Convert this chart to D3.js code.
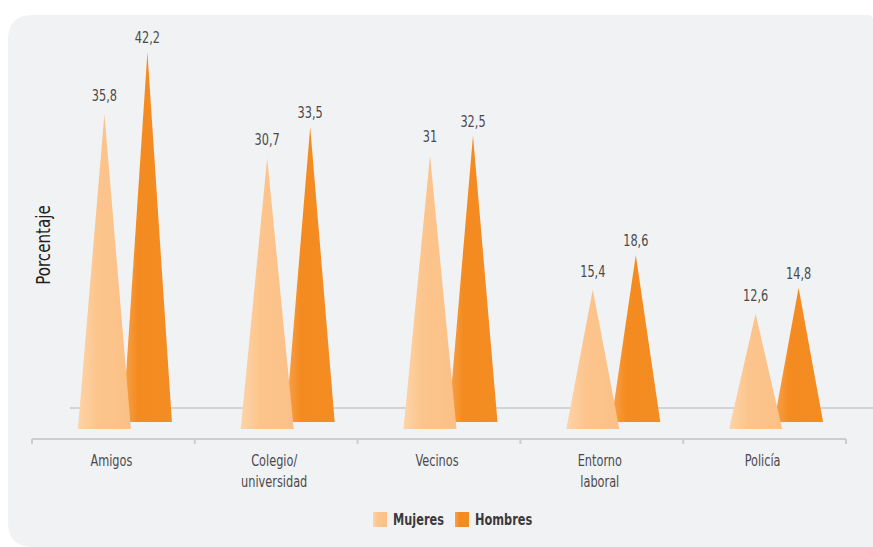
<!DOCTYPE html>
<html>
<head>
<meta charset="utf-8">
<script src="https://cdn.jsdelivr.net/npm/d3@7"></script>
<style>
	body { margin: 0; background: #ffffff; }
	text { font-family: "Liberation Sans Narrow", "DejaVu Sans Condensed", "Roboto", sans-serif; }
</style>
</head>
<body>
<svg id="chart" width="873" height="547"></svg>
<script>

var categories = ["Amigos", "Colegio/\nuniversidad", "Vecinos", "Entorno\nlaboral", "Policía"];
var mujeres = [35.8, 30.7, 31, 15.4, 12.6];
var hombres = [42.2, 33.5, 32.5, 18.6, 14.8];
var seriesNames = ["Mujeres", "Hombres"];

var fmt = function(v)
{
	return String(v).replace(".", ",");
};

// narrow text: the reference uses a condensed face
var squeeze = 0.84;

function narrowText(parent, px, py, str, size, extra)
{
	var t = parent.append("text")
		.attr("transform", "translate(" + px + "," + py + ")" + (extra || "") + " scale(" + squeeze + ",1)")
		.attr("font-size", size)
		.text(str);
	return t;
}

function drawChart()
{
	var svg = d3.select("#chart");
	var defs = svg.append("defs");

	// panel, rounded on the left side
	svg.append("path")
		.attr("d", "M33,15 L868,15 Q873,15 873,20 L873,547 L33,547 Q8,547 8,522 L8,40 Q8,15 33,15 Z")
		.attr("fill", "#f1f2f4");

	var gM = defs.append("linearGradient").attr("id", "gradM");
	gM.append("stop").attr("offset", "0%").attr("stop-color", "#fdd4a9");
	gM.append("stop").attr("offset", "35%").attr("stop-color", "#fcc58d");
	gM.append("stop").attr("offset", "100%").attr("stop-color", "#fbc086");

	var gH = defs.append("linearGradient").attr("id", "gradH");
	gH.append("stop").attr("offset", "0%").attr("stop-color", "#f7a34e");
	gH.append("stop").attr("offset", "30%").attr("stop-color", "#f48b20");
	gH.append("stop").attr("offset", "100%").attr("stop-color", "#f38c22");

	var x = d3.scaleBand().domain(categories).range([32, 846]);
	var y = d3.scaleLinear().domain([0, 45]).range([415, 415 - 45 * 8.6]);
	var offM = -9, offH = 34;

	// floor line behind the cones
	svg.append("line")
		.attr("x1", 70).attr("x2", 873)
		.attr("y1", y(0) - 7).attr("y2", y(0) - 7)
		.attr("stroke", "#d2d4d7")
		.attr("stroke-width", 2);

	function cone(cx, w, base, apex)
	{
		return "M" + (cx - w / 2) + "," + base + " L" + cx + "," + apex + " L" + (cx + w / 2) + "," + base + " Z";
	}

	var data = categories.map(function(c, i)
	{
		return { cat: c, m: mujeres[i], h: hombres[i] };
	});

	// hombres (back row)
	svg.selectAll(".hombres")
		.data(data)
		.enter()
		.append("path")
		.classed("hombres", true)
		.attr("fill", "url(#gradH)")
		.attr("d", function(d)
		{
			var cx = x(d.cat) + x.bandwidth() / 2 + offH;
			return cone(cx, 49, y(0) + 7, y(d.h));
		});

	// mujeres (front row)
	svg.selectAll(".mujeres")
		.data(data)
		.enter()
		.append("path")
		.classed("mujeres", true)
		.attr("fill", "url(#gradM)")
		.attr("d", function(d)
		{
			var cx = x(d.cat) + x.bandwidth() / 2 + offM;
			return cone(cx, 53, y(0) + 14, y(d.m) + 7);
		});

	// value labels
	data.forEach(function(d)
	{
		var c = x(d.cat) + x.bandwidth() / 2;
		narrowText(svg, c + offH, y(d.h) - 9, fmt(d.h), 15)
			.attr("text-anchor", "middle")
			.attr("fill", "#4a4a4c");
		narrowText(svg, c + offM, y(d.m) + 7 - 13, fmt(d.m), 15)
			.attr("text-anchor", "middle")
			.attr("fill", "#4a4a4c");
	});

	// x axis with ticks at band edges
	var axisY = 439;
	svg.append("line")
		.attr("x1", x.range()[0]).attr("x2", x.range()[1])
		.attr("y1", axisY).attr("y2", axisY)
		.attr("stroke", "#cbcdd0")
		.attr("stroke-width", 2);

	var edges = categories.map(function(c) { return x(c); }).concat([x.range()[1]]);
	svg.selectAll(".tick")
		.data(edges)
		.enter()
		.append("line")
		.attr("x1", function(d) { return d; })
		.attr("x2", function(d) { return d; })
		.attr("y1", axisY)
		.attr("y2", axisY + 5)
		.attr("stroke", "#cbcdd0")
		.attr("stroke-width", 2);

	categories.forEach(function(c)
	{
		c.split("\n").forEach(function(line, i)
		{
			narrowText(svg, x(c) + x.bandwidth() / 2 - 2, 466 + i * 21, line, 15)
				.attr("text-anchor", "middle")
				.attr("fill", "#4a4a4c");
		});
	});

	// y axis title
	narrowText(svg, 50, 245, "Porcentaje", 20, " rotate(-90)")
		.attr("text-anchor", "middle")
		.attr("fill", "#231f20");

	// legend
	var legend = svg.append("g").attr("transform", "translate(373,512)");
	var fills = ["url(#gradM)", "url(#gradH)"];
	var offs = [0, 82];
	seriesNames.forEach(function(name, i)
	{
		legend.append("rect")
			.attr("x", offs[i]).attr("y", 0)
			.attr("width", 14).attr("height", 15)
			.attr("fill", fills[i]);
		narrowText(legend, offs[i] + 20, 13, name, 15)
			.attr("font-weight", "bold")
			.attr("fill", "#3a3a3c");
	});
}

drawChart();

</script>
</body>
</html>
